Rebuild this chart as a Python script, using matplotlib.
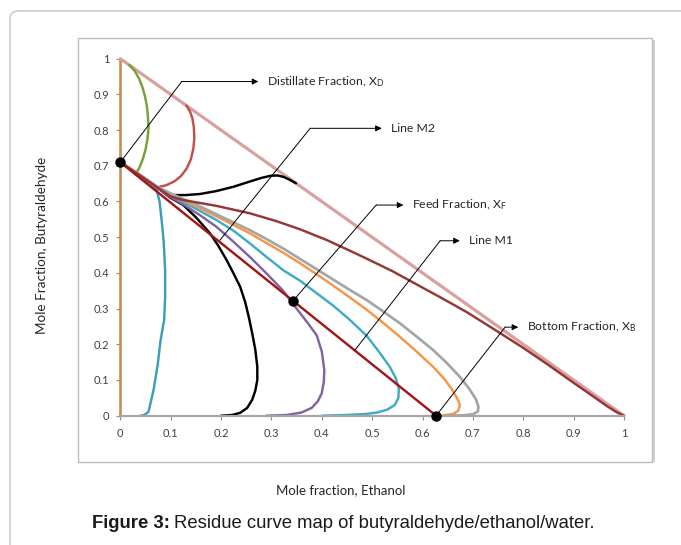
import matplotlib
matplotlib.use("Agg")
import matplotlib.pyplot as plt
from matplotlib.patches import FancyBboxPatch, Rectangle

plt.rcParams['font.family'] = ['Lato', 'DejaVu Sans']
plt.rcParams['mathtext.fontset'] = 'custom'
plt.rcParams['mathtext.rm'] = 'Lato'
plt.rcParams['mathtext.it'] = 'Lato:italic'

# ---------------- data ----------------
ticks = [0, 0.1, 0.2, 0.3, 0.4, 0.5, 0.6, 0.7, 0.8, 0.9, 1]
tick_labels = ["0", "0.1", "0.2", "0.3", "0.4", "0.5", "0.6", "0.7", "0.8", "0.9", "1"]

edge_left_x = [0, 0]
edge_left_y = [0, 1]
edge_diag_x = [0, 1]
edge_diag_y = [1, 0]

green_x = [0.030, 0.038, 0.045, 0.050, 0.054, 0.056, 0.055, 0.053, 0.049, 0.044, 0.037, 0.028, 0.018]
green_y = [0.676, 0.695, 0.720, 0.745, 0.775, 0.805, 0.835, 0.865, 0.895, 0.920, 0.945, 0.967, 0.982]

red_x = [0.075, 0.092, 0.108, 0.121, 0.132, 0.140, 0.145, 0.147, 0.146, 0.143, 0.138, 0.131]
red_y = [0.640, 0.646, 0.657, 0.672, 0.693, 0.718, 0.748, 0.778, 0.808, 0.834, 0.853, 0.869]

teal1_x = [0.0, 0.04, 0.072, 0.078, 0.082, 0.086, 0.089, 0.089, 0.087, 0.080, 0.074, 0.066, 0.060, 0.056, 0.048, 0.040]
teal1_y = [0.71, 0.672, 0.632, 0.600, 0.548, 0.490, 0.408, 0.330, 0.268, 0.212, 0.140, 0.072, 0.035, 0.011, 0.002, 0.0]

black_up_x = [0.0, 0.04, 0.075, 0.092, 0.105, 0.130, 0.158, 0.190, 0.224, 0.255, 0.280, 0.298, 0.312, 0.324, 0.336, 0.349]
black_up_y = [0.71, 0.672, 0.638, 0.624, 0.618, 0.618, 0.621, 0.629, 0.641, 0.655, 0.666, 0.672, 0.673, 0.669, 0.661, 0.651]

black_lo_x = [0.0, 0.04, 0.075, 0.100, 0.125, 0.150, 0.178, 0.195, 0.211, 0.225, 0.238, 0.248, 0.255, 0.262, 0.268,
              0.272, 0.272, 0.268, 0.262, 0.252, 0.238, 0.222, 0.200]
black_lo_y = [0.71, 0.672, 0.637, 0.610, 0.590, 0.556, 0.511, 0.475, 0.436, 0.398, 0.361, 0.318, 0.277, 0.230, 0.185,
              0.137, 0.100, 0.070, 0.045, 0.022, 0.008, 0.002, 0.0]

purple_x = [0.0, 0.04, 0.075, 0.100, 0.125, 0.160, 0.191, 0.221, 0.257, 0.290, 0.322, 0.350, 0.372, 0.390, 0.400,
            0.405, 0.404, 0.400, 0.392, 0.380, 0.360, 0.330, 0.290]
purple_y = [0.71, 0.672, 0.636, 0.612, 0.592, 0.560, 0.529, 0.492, 0.445, 0.399, 0.352, 0.300, 0.260, 0.225, 0.180,
            0.128, 0.095, 0.063, 0.040, 0.022, 0.009, 0.002, 0.0]

teal2_x = [0.0, 0.04, 0.075, 0.115, 0.150, 0.191, 0.225, 0.257, 0.290, 0.324, 0.357, 0.390, 0.423, 0.456, 0.489,
           0.512, 0.535, 0.547, 0.553, 0.552, 0.545, 0.530, 0.510, 0.489, 0.450, 0.400]
teal2_y = [0.71, 0.672, 0.637, 0.606, 0.580, 0.548, 0.518, 0.483, 0.445, 0.407, 0.378, 0.343, 0.308, 0.268, 0.224,
           0.182, 0.137, 0.105, 0.075, 0.050, 0.030, 0.017, 0.009, 0.005, 0.002, 0.0]

orange_x = [0.0, 0.04, 0.075, 0.110, 0.150, 0.200, 0.257, 0.290, 0.324, 0.357, 0.390, 0.423, 0.456, 0.489, 0.522,
            0.555, 0.588, 0.621, 0.642, 0.658, 0.669, 0.674, 0.671, 0.661, 0.641, 0.620]
orange_y = [0.71, 0.673, 0.638, 0.612, 0.587, 0.552, 0.511, 0.484, 0.456, 0.427, 0.396, 0.364, 0.331, 0.297, 0.260,
            0.221, 0.180, 0.137, 0.105, 0.075, 0.048, 0.030, 0.014, 0.005, 0.001, 0.0]

gray_x = [0.0, 0.04, 0.075, 0.110, 0.150, 0.200, 0.257, 0.290, 0.324, 0.357, 0.390, 0.423, 0.456, 0.489, 0.522,
          0.555, 0.588, 0.621, 0.648, 0.674, 0.693, 0.706, 0.711, 0.710, 0.700, 0.680, 0.650]
gray_y = [0.71, 0.674, 0.640, 0.616, 0.592, 0.558, 0.520, 0.495, 0.468, 0.439, 0.410, 0.381, 0.352, 0.324, 0.292,
          0.259, 0.222, 0.184, 0.148, 0.109, 0.075, 0.046, 0.025, 0.012, 0.004, 0.001, 0.0]

dred_x = [0.0, 0.04, 0.075, 0.100, 0.125, 0.190, 0.257, 0.310, 0.357, 0.410, 0.456, 0.489, 0.540, 0.588, 0.640,
          0.688, 0.741, 0.800, 0.850, 0.900, 0.940, 0.965, 0.985, 1.0]
dred_y = [0.71, 0.672, 0.638, 0.614, 0.604, 0.588, 0.567, 0.545, 0.522, 0.492, 0.462, 0.440, 0.405, 0.368, 0.328,
          0.290, 0.243, 0.190, 0.142, 0.092, 0.053, 0.028, 0.010, 0.0]

lineM_x = [0.0, 0.627]
lineM_y = [0.71, 0.0]

points_x = [0.0, 0.343, 0.627]
points_y = [0.71, 0.322, 0.0]

ann_labels = ["Distillate Fraction, X$_{\\mathrm{D}}$", "Line M2", "Feed Fraction, X$_{\\mathrm{F}}$",
              "Line M1", "Bottom Fraction, X$_{\\mathrm{B}}$"]
ann_start = [(0.0, 0.71), (0.198, 0.492), (0.343, 0.322), (0.466, 0.184), (0.627, 0.0)]
ann_elbow = [(0.122, 0.936), (0.377, 0.805), (0.508, 0.590), (0.635, 0.490), (0.764, 0.248)]
ann_tip = [(0.274, 0.936), (0.519, 0.805), (0.562, 0.590), (0.674, 0.490), (0.790, 0.248)]

# ---------------- figure ----------------
W, H = 681, 545
fig = plt.figure(figsize=(W / 100, H / 100), dpi=100)

outer = FancyBboxPatch((10 / 100, -0.3), 7.2, (545 - 11) / 100 + 0.3,
                       boxstyle="round,pad=0,rounding_size=0.08",
                       transform=fig.dpi_scale_trans, fill=False, ec='#c4c4c4', lw=1.0)
fig.add_artist(outer)

inner = Rectangle((78 / W, 1 - 462 / H), (652 - 78) / W, (462 - 38) / H,
                  transform=fig.transFigure, fill=False, ec='#bdbdbd', lw=1.0)
fig.add_artist(inner)
shadow = Rectangle((653 / W, 1 - 462 / H), 1.5 / W, (462 - 40) / H,
                   transform=fig.transFigure, fill=True, fc='#d0d0d0', ec='none')
fig.add_artist(shadow)

left = 120.3 / W
bottom = 1 - 415.7 / H
ax = fig.add_axes([left, bottom, 503.7 / W, 357 / H])
ax.set_xlim(0, 1)
ax.set_ylim(0, 1)
for s in ['top', 'right', 'left']:
    ax.spines[s].set_visible(False)
ax.spines['bottom'].set_color('#a6a6a6')
ax.spines['bottom'].set_linewidth(1.6)

ax.set_xticks(ticks)
ax.set_xticklabels(tick_labels)
ax.set_yticks(ticks)
ax.set_yticklabels(tick_labels)
ax.tick_params(axis='both', direction='out', length=3, width=0.8, color='#8c8c8c',
               labelsize=8, labelcolor='#404040')
ax.tick_params(axis='x', pad=6)
ax.tick_params(axis='y', pad=5)

lw = 1.75
kw = dict(clip_on=False, solid_capstyle='round', solid_joinstyle='round')
ax.plot(edge_left_x, edge_left_y, color='#c68c50', lw=1.9, **kw)
ax.plot(edge_diag_x, edge_diag_y, color='#d9a0a0', lw=2.3, **kw)
ax.plot(green_x, green_y, color='#76a13a', lw=lw, **kw)
ax.plot(red_x, red_y, color='#c0504d', lw=lw, **kw)
ax.plot(teal1_x, teal1_y, color='#3a9fb8', lw=lw, **kw)
ax.plot(black_up_x, black_up_y, color='#000000', lw=lw, **kw)
ax.plot(black_lo_x, black_lo_y, color='#000000', lw=lw, **kw)
ax.plot(purple_x, purple_y, color='#8064a2', lw=lw, **kw)
ax.plot(teal2_x, teal2_y, color='#3fabc4', lw=lw, **kw)
ax.plot(orange_x, orange_y, color='#f79646', lw=lw, **kw)
ax.plot(gray_x, gray_y, color='#a5a5a5', lw=lw + 0.2, **kw)
ax.plot(dred_x, dred_y, color='#953735', lw=lw, **kw)
ax.plot(lineM_x, lineM_y, color='#a01818', lw=lw, **kw)

for lab, st, el, tp in zip(ann_labels, ann_start, ann_elbow, ann_tip):
    ax.plot([st[0], el[0]], [st[1], el[1]], color='black', lw=0.7, clip_on=False, zorder=6)
    ax.annotate('', xy=tp, xytext=el,
                arrowprops=dict(arrowstyle='-|>', lw=0.7, color='black', mutation_scale=9,
                                shrinkA=0, shrinkB=0), annotation_clip=False, zorder=6)
    ax.text(tp[0] + 0.018, tp[1], lab, fontsize=8.8, color='#262626', va='center', ha='left', zorder=7)

ax.plot(points_x, points_y, 'o', color='black', ms=6.5, clip_on=False, zorder=8)

fig.text(341 / W, 1 - 490 / H, "Mole fraction, Ethanol", fontsize=9.5, color='#262626',
         ha='center', va='center')
fig.text(42 / W, 1 - 245 / H, "Mole Fraction, Butyraldehyde", fontsize=9.7, color='#262626',
         ha='center', va='center', rotation=90)

cap_y = 1 - 523 / H
t1 = fig.text(92 / W, cap_y, "Figure 3:", fontsize=13.3, fontweight='bold', family='Liberation Sans',
              ha='left', va='center', color='#1a1a1a')
fig.canvas.draw()
bb = t1.get_window_extent()
fig.text(bb.x1 / W + 4 / W, cap_y, "Residue curve map of butyraldehyde/ethanol/water.", fontsize=13.3,
         family='Liberation Sans', ha='left', va='center', color='#1a1a1a')

fig.savefig("out.png", dpi=100)
